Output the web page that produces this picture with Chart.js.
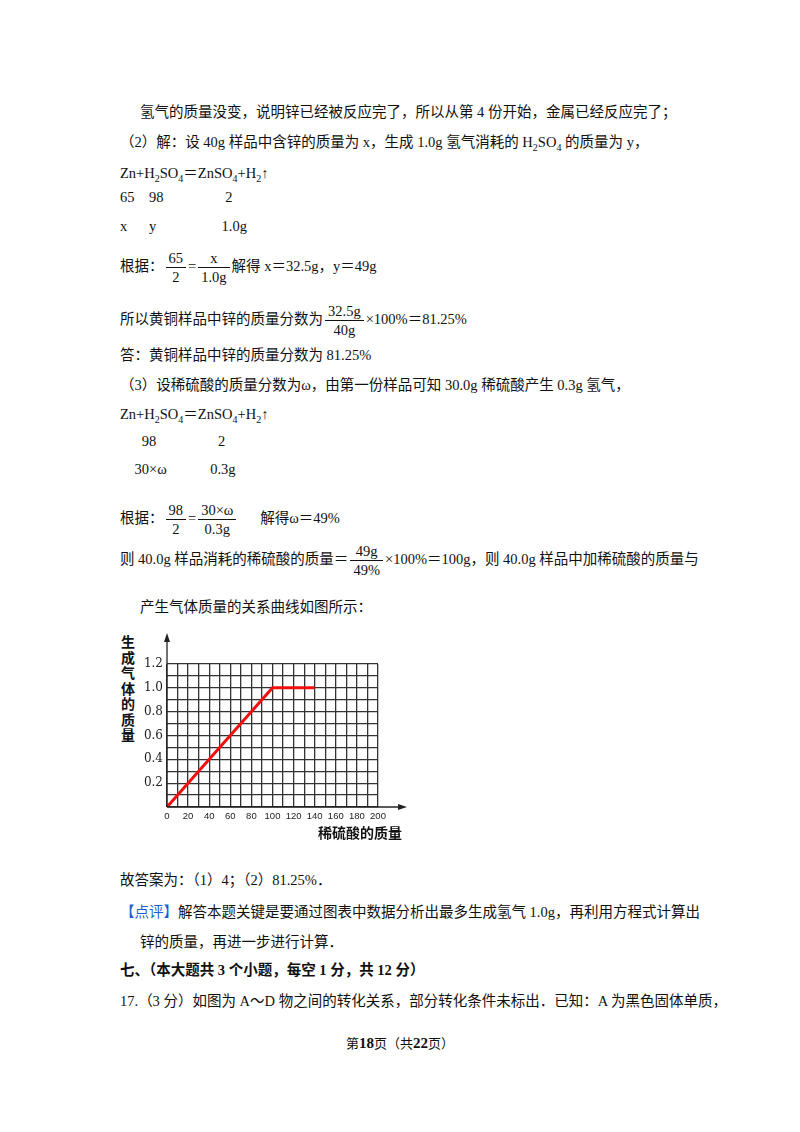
<!DOCTYPE html>
<html><head><meta charset="utf-8">
<script src="https://cdn.jsdelivr.net/npm/chart.js@4/dist/chart.umd.min.js"></script>
<style>
body{margin:0;width:800px;height:1132px;background:#fff;font-family:"Liberation Serif","Noto Sans CJK SC",serif;font-size:14.5px;color:#111;position:relative}
.l{position:absolute;left:120px;white-space:nowrap}
.i{left:140px}
.fr{display:inline-block;vertical-align:middle;text-align:center;margin:0 2px}
.fr span{display:block;padding:0 3px;line-height:18px}
.fr span:first-child{border-bottom:1px solid #111}
sub{font-size:10px}
#wrap{position:absolute;left:140px;top:630px;width:280px;height:215px}
.yt{position:absolute;left:121px;top:634px;width:16px;font-weight:bold;font-size:14px;line-height:15.5px;font-family:"Noto Sans CJK SC"}
.xt{position:absolute;left:318px;top:822px;font-size:14px;font-weight:bold;font-family:"Noto Sans CJK SC"}
</style></head><body>
<div class="l i" style="top:100px">氢气的质量没变，说明锌已经被反应完了，所以从第 4 份开始，金属已经反应完了；</div>
<div class="l" style="top:130px">（2）解：设 40g 样品中含锌的质量为 x，生成 1.0g 氢气消耗的 H<sub>2</sub>SO<sub>4</sub> 的质量为 y，</div>
<div class="l" style="top:161px">Zn+H<sub>2</sub>SO<sub>4</sub>＝ZnSO<sub>4</sub>+H<sub>2</sub>↑</div>
<div class="l" style="top:189px">65&nbsp;&nbsp;&nbsp;&nbsp;98&nbsp;&nbsp;&nbsp;&nbsp;&nbsp;&nbsp;&nbsp;&nbsp;&nbsp;&nbsp;&nbsp;&nbsp;&nbsp;&nbsp;&nbsp;&nbsp;&nbsp;2</div>
<div class="l" style="top:218px">x&nbsp;&nbsp;&nbsp;&nbsp;&nbsp;&nbsp;y&nbsp;&nbsp;&nbsp;&nbsp;&nbsp;&nbsp;&nbsp;&nbsp;&nbsp;&nbsp;&nbsp;&nbsp;&nbsp;&nbsp;&nbsp;&nbsp;&nbsp;&nbsp;1.0g</div>
<div class="l" style="top:249px">根据：<span class="fr"><span>65</span><span>2</span></span>=<span class="fr"><span>x</span><span>1.0g</span></span>解得 x＝32.5g，y＝49g</div>
<div class="l" style="top:302px">所以黄铜样品中锌的质量分数为<span class="fr"><span>32.5g</span><span>40g</span></span>×100%＝81.25%</div>
<div class="l" style="top:343px">答：黄铜样品中锌的质量分数为 81.25%</div>
<div class="l" style="top:373px">（3）设稀硫酸的质量分数为ω，由第一份样品可知 30.0g 稀硫酸产生 0.3g 氢气，</div>
<div class="l" style="top:402px">Zn+H<sub>2</sub>SO<sub>4</sub>＝ZnSO<sub>4</sub>+H<sub>2</sub>↑</div>
<div class="l" style="top:433px">&nbsp;&nbsp;&nbsp;&nbsp;&nbsp;&nbsp;98&nbsp;&nbsp;&nbsp;&nbsp;&nbsp;&nbsp;&nbsp;&nbsp;&nbsp;&nbsp;&nbsp;&nbsp;&nbsp;&nbsp;&nbsp;&nbsp;&nbsp;2</div>
<div class="l" style="top:461px">&nbsp;&nbsp;&nbsp;&nbsp;30×ω&nbsp;&nbsp;&nbsp;&nbsp;&nbsp;&nbsp;&nbsp;&nbsp;&nbsp;&nbsp;&nbsp;&nbsp;0.3g</div>
<div class="l" style="top:501px">根据：<span class="fr"><span>98</span><span>2</span></span>=<span class="fr"><span>30×ω</span><span>0.3g</span></span>&nbsp;&nbsp;&nbsp;&nbsp;&nbsp;&nbsp;解得ω＝49%</div>
<div class="l" style="top:542px">则 40.0g 样品消耗的稀硫酸的质量＝<span class="fr"><span>49g</span><span>49%</span></span>×100%＝100g，则 40.0g 样品中加稀硫酸的质量与</div>
<div class="l i" style="top:595px">产生气体质量的关系曲线如图所示：</div>
<div class="yt">生成气体的质量</div>
<div id="wrap"><canvas id="c"></canvas></div>
<div class="xt">稀硫酸的质量</div>
<div class="l" style="top:868px">故答案为：（1）4；（2）81.25%．</div>
<div class="l" style="top:900px"><span style="color:#1a5fd0">【点评】</span>解答本题关键是要通过图表中数据分析出最多生成氢气 1.0g，再利用方程式计算出</div>
<div class="l i" style="top:930px">锌的质量，再进一步进行计算．</div>
<div class="l" style="top:958px;font-weight:bold">七、（本大题共 3 个小题，每空 1 分，共 12 分）</div>
<div class="l" style="top:989px">17.（3 分）如图为 A～D 物之间的转化关系，部分转化条件未标出．已知：A 为黑色固体单质，</div>
<div style="position:absolute;left:0;width:800px;top:1033px;text-align:center;font-size:13px">第<b style="font-size:15px">18</b>页（共<b style="font-size:15px">22</b>页）</div>
<script>
var acidMass = [0, 100, 140];
var gasMass = [0, 1.0, 1.0];
var xTicks = [0, 20, 40, 60, 80, 100, 120, 140, 160, 180, 200];
var yTicks = [0.2, 0.4, 0.6, 0.8, 1.0, 1.2];

var arrows = {
  id: 'arrows',
  afterDraw: function(chart){
    var c = chart.ctx, a = chart.chartArea;
    c.save(); c.strokeStyle = '#222'; c.fillStyle = '#222'; c.lineWidth = 1.3;
    c.beginPath(); c.moveTo(a.left, a.bottom); c.lineTo(a.left, 6); c.stroke();
    c.beginPath(); c.moveTo(a.left, a.bottom); c.lineTo(a.right + 26, a.bottom); c.stroke();
    c.beginPath(); c.moveTo(a.left, 3); c.lineTo(a.left - 3, 12); c.lineTo(a.left + 3, 12); c.fill();
    c.beginPath(); c.moveTo(a.right + 29, a.bottom); c.lineTo(a.right + 20, a.bottom - 3); c.lineTo(a.right + 20, a.bottom + 3); c.fill();
    c.restore();
  }
};

new Chart(document.getElementById('c'), {
  type: 'line',
  data: { datasets: [{
    data: acidMass.map(function(x, i){ return { x: x, y: gasMass[i] }; }),
    borderColor: '#f01010', borderWidth: 3, pointRadius: 0, tension: 0
  }]},
  options: {
    responsive: true, maintainAspectRatio: false, animation: false,
    layout: { padding: { top: 34, right: 42, left: 0, bottom: 0 } },
    plugins: { legend: { display: false }, tooltip: { enabled: false } },
    scales: {
      x: {
        type: 'linear', min: 0, max: 200,
        afterFit: function(s){ s.height = 38; },
        afterBuildTicks: function(s){ s.ticks = []; for (var v = 0; v <= 200; v += 10) s.ticks.push({ value: v }); },
        grid: { color: '#333', lineWidth: 1.3, drawTicks: false },
        border: { display: false },
        ticks: { color: '#222', font: { size: 9.5, family: 'Liberation Sans' }, padding: 4, autoSkip: false, maxRotation: 0,
          callback: function(v){ return xTicks.indexOf(v) >= 0 ? String(v) : ''; } }
      },
      y: {
        min: 0, max: 1.2,
        afterFit: function(s){ s.width = 27; },
        afterBuildTicks: function(s){ s.ticks = []; for (var k = 0; k <= 12; k++) s.ticks.push({ value: k / 10 }); },
        grid: { color: '#333', lineWidth: 1.3, drawTicks: false },
        border: { display: false },
        ticks: { color: '#222', font: { size: 12, family: 'DejaVu Serif' }, padding: 4, autoSkip: false,
          callback: function(v){
            var r = Math.round(v * 10) / 10;
            return yTicks.indexOf(r) >= 0 ? r.toFixed(1) : '';
          } }
      }
    }
  },
  plugins: [arrows]
});
</script>
</body></html>
